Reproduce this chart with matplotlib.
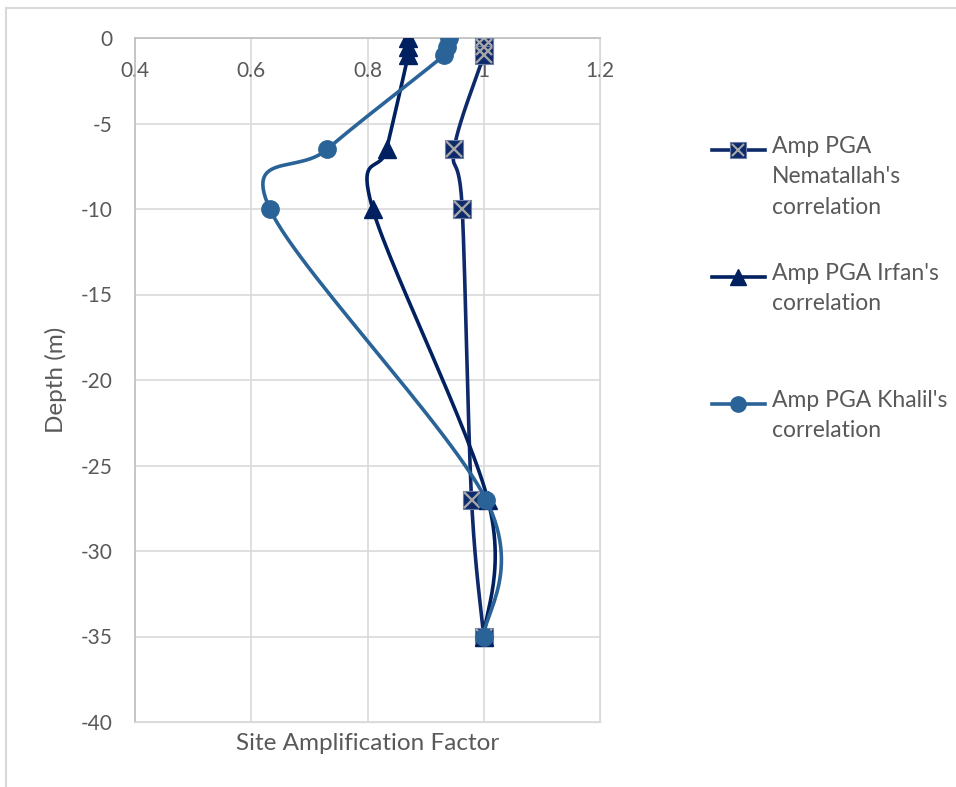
import numpy as np
import matplotlib.pyplot as plt
from matplotlib.lines import Line2D

plt.rcParams['font.family'] = ['Lato', 'DejaVu Sans']
plt.rcParams['axes.unicode_minus'] = False

depth = [0, -0.5, -1, -6.5, -10, -27, -35]
amp_nematallah = [1.0, 1.0, 1.0, 0.949, 0.963, 0.979, 1.0]
amp_irfan = [0.870, 0.870, 0.870, 0.833, 0.809, 1.007, 1.0]
amp_khalil = [0.941, 0.937, 0.932, 0.731, 0.632, 1.004, 1.0]

labels = ["Amp PGA\nNematallah's\ncorrelation",
          "Amp PGA Irfan's\ncorrelation",
          "Amp PGA Khalil's\ncorrelation"]

c_nem = '#0E2A6B'
c_irf = '#002060'
c_kha = '#2A6398'
txt = '#595959'

# excel style smoothed line (bezier through points, ctrl = neighbour diff / 6)
def smooth(x, y, sx=582.5, sy=17.1, n=30):
    p = np.column_stack([np.array(x) * sx, np.array(y) * sy])
    out = []
    for i in range(len(p) - 1):
        p0 = p[i - 1] if i > 0 else p[i]
        p1, p2 = p[i], p[i + 1]
        p3 = p[i + 2] if i + 2 < len(p) else p[i + 1]
        c1 = p1 + (p2 - p0) / 6
        c2 = p2 - (p3 - p1) / 6
        t = np.linspace(0, 1, n)[:, None]
        seg = (1 - t) ** 3 * p1 + 3 * (1 - t) ** 2 * t * c1 + 3 * (1 - t) * t ** 2 * c2 + t ** 3 * p2
        out.append(seg)
    out = np.vstack(out)
    return out[:, 0] / sx, out[:, 1] / sy

fig = plt.figure(figsize=(9.56, 7.87), dpi=100)
ax = fig.add_axes([135 / 956, 1 - 722 / 787, 465 / 956, 684 / 787])

lw = 2.6
xs, ys = smooth(amp_nematallah, depth)
ax.plot(xs, ys, color=c_nem, lw=lw, zorder=3)
ax.plot(amp_nematallah, depth, 's', color=c_nem, ms=13, mec='#6D7FA6', mew=0.8, zorder=4)
ax.plot(amp_nematallah, depth, 'x', color='#A6A6A6', ms=11, mew=1.7, zorder=5)

xs, ys = smooth(amp_irfan, depth)
ax.plot(xs, ys, color=c_irf, lw=lw, zorder=6)
ax.plot(amp_irfan, depth, '^', color=c_irf, ms=13, zorder=7)

xs, ys = smooth(amp_khalil, depth)
ax.plot(xs, ys, color=c_kha, lw=lw, zorder=8)
ax.plot(amp_khalil, depth, 'o', color=c_kha, ms=12.5, zorder=9)

ax.set_xlim(0.4, 1.2)
ax.set_ylim(-40, 0)
ax.set_xticks([0.4, 0.6, 0.8, 1.0, 1.2])
ax.set_xticklabels(['0.4', '0.6', '0.8', '1', '1.2'])
ax.set_yticks(np.arange(-40, 1, 5))
ax.xaxis.set_ticks_position('top')
ax.tick_params(axis='x', length=0, pad=-31, labelsize=15, colors=txt)
ax.tick_params(axis='y', length=0, pad=16, labelsize=15, colors=txt)
ax.grid(True, color='#D9D9D9', lw=1.2, zorder=0)
ax.set_axisbelow(True)
for s in ['right', 'bottom']:
    ax.spines[s].set_color('#D9D9D9')
for s in ['left', 'top']:
    ax.spines[s].set_color('#BFBFBF')
    ax.spines[s].set_linewidth(1.2)

ax.set_xlabel('Site Amplification Factor', fontsize=17.5, color=txt, labelpad=8)
ax.set_ylabel('Depth (m)', fontsize=17.5, color=txt, labelpad=10)

# legend drawn by hand so the marker sits on the first text line
leg_y = [150, 277, 404]
styles = [(c_nem, 's'), (c_irf, '^'), (c_kha, 'o')]
for (c, m), y, lab in zip(styles, leg_y, labels):
    yf = 1 - y / 787
    fig.add_artist(Line2D([712 / 956, 765 / 956], [yf, yf], color=c, lw=lw))
    if m == 's':
        fig.add_artist(Line2D([738 / 956], [yf], marker='s', color=c, ms=11,
                              mec='#6D7FA6', mew=0.8))
        fig.add_artist(Line2D([738 / 956], [yf], marker='x', color='#A6A6A6', ms=9, mew=1.5))
    else:
        fig.add_artist(Line2D([738 / 956], [yf], marker=m, color=c, ms=11))
    fig.text(772 / 956, yf + 14 / 787, lab, fontsize=16.5, color=txt, va='top',
             ha='left', linespacing=1.55)

# chart area border
fig.add_artist(Line2D([6 / 956, 6 / 956], [0, 1 - 8 / 787], color='#D9D9D9', lw=1.5))
fig.add_artist(Line2D([6 / 956, 1], [1 - 8 / 787, 1 - 8 / 787], color='#D9D9D9', lw=1.5))

fig.savefig('out.png', dpi=100)
